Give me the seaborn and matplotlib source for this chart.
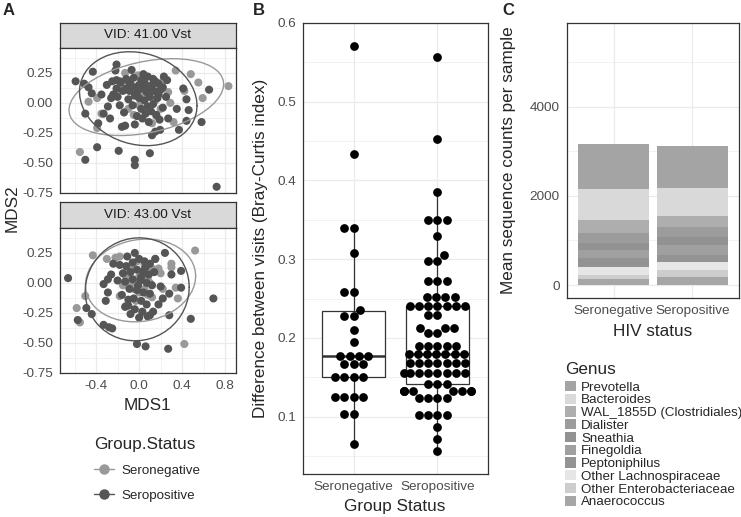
import numpy as np
import pandas as pd
import matplotlib
matplotlib.use("Agg")
import matplotlib.pyplot as plt
from matplotlib.lines import Line2D
from matplotlib.patches import Patch
from matplotlib.ticker import MultipleLocator, FormatStrFormatter
import seaborn as sns

# ---- panel A: MDS ordination, one facet per visit ----
vid_labels = ['VID: 41.00 Vst', 'VID: 43.00 Vst']
status_order = ['Seronegative', 'Seropositive']

vid41_seroneg = [
    (-0.55, -0.41), (-0.39, -0.21), (-0.39, 0.04), (-0.47, 0.01), (-0.35, -0.09),
    (-0.13, 0.25), (-0.15, 0.12), (-0.01, 0.23), (-0.05, -0.10), (0.03, 0.05),
    (0.34, 0.27), (0.48, 0.24), (0.55, 0.17), (0.59, 0.04), (0.83, 0.14),
    (0.27, 0.09), (0.29, 0.00), (0.16, -0.11), (0.32, -0.16), (0.05, 0.08),
    (0.10, 0.10), (0.06, 0.15), (-0.25, 0.05), (-0.08, 0.14), (0.15, 0.02),
    (0.20, -0.05), (-0.10, -0.05), (0.12, -0.17), (0.42, 0.10), (-0.20, 0.10),
    (0.22, 0.18), (0.00, -0.02),
]
vid41_seropos = [
    (-0.59, 0.18), (-0.43, 0.26), (-0.51, 0.16), (-0.47, 0.13), (-0.44, 0.08),
    (-0.50, -0.09), (-0.39, -0.37), (-0.50, -0.475), (-0.19, -0.40), (-0.04, -0.475),
    (-0.04, -0.52), (0.10, -0.42), (0.72, -0.70), (0.65, 0.11), (0.58, -0.16),
    (0.46, -0.06), (0.44, -0.15), (0.44, 0.03), (0.41, 0.12), (0.35, -0.05),
    (0.27, -0.13), (0.37, -0.225), (0.195, -0.225), (0.15, -0.24), (0.12, -0.27),
    (0.23, 0.22), (0.26, 0.19), (-0.38, -0.17), (-0.33, -0.09), (-0.27, -0.13),
    (-0.29, -0.03), (-0.16, -0.20), (-0.13, -0.19), (-0.04, -0.18), (-0.21, 0.32),
    (-0.22, 0.27), (-0.07, 0.275), (-0.35, 0.07), (-0.24, 0.07), (-0.26, 0.04),
    (-0.21, 0.19), (-0.18, 0.18), (-0.10, 0.18),
    (-0.30, 0.15), (-0.25, 0.18), (-0.17, 0.17), (-0.12, 0.20), (-0.05, 0.21),
    (0.02, 0.19), (0.08, 0.22), (0.13, 0.20), (0.18, 0.16), (0.12, 0.15),
    (-0.20, 0.05), (-0.15, 0.10), (-0.09, 0.10), (-0.03, 0.13), (0.03, 0.12),
    (0.07, 0.09), (0.14, 0.10), (0.20, 0.11), (0.25, 0.05), (0.17, 0.04),
    (-0.18, -0.02), (-0.10, 0.03), (-0.04, 0.06), (0.00, 0.04), (0.05, 0.02),
    (0.10, 0.05), (0.13, -0.01), (0.08, -0.03), (0.02, -0.05), (-0.06, -0.02),
    (-0.14, -0.08), (0.06, -0.09), (0.11, -0.07), (0.16, -0.10), (0.22, -0.04),
    (0.03, -0.13), (-0.02, -0.11), (0.09, -0.16), (0.19, -0.14), (-0.21, 0.12),
    (-0.08, 0.16), (0.00, 0.15), (0.05, 0.17), (0.15, 0.18), (0.10, 0.13),
    (-0.02, 0.09), (0.18, 0.07), (0.22, 0.13), (-0.12, 0.12), (0.04, 0.24),
]
vid43_seroneg = [
    (-0.43, 0.23), (-0.50, -0.11), (-0.58, -0.21), (-0.55, -0.33), (-0.30, 0.20),
    (-0.22, 0.21), (-0.18, 0.22), (-0.18, -0.11), (0.52, 0.27), (0.30, 0.16),
    (0.30, 0.13), (0.34, -0.04), (0.36, -0.13), (0.42, -0.51), (-0.10, 0.10),
    (0.00, 0.05), (0.05, 0.15), (-0.05, -0.05), (0.10, 0.00), (-0.12, -0.19),
    (0.15, 0.20), (0.08, -0.10), (-0.02, 0.18), (0.20, 0.08), (0.03, -0.25),
    (0.12, 0.12), (-0.08, 0.00), (0.22, -0.05),
    (-0.05, 0.12), (0.02, 0.08), (0.08, 0.03), (-0.12, 0.05), (0.05, -0.05),
    (-0.03, -0.15), (0.12, -0.12), (0.18, 0.12), (-0.15, -0.02), (0.00, -0.08),
]
vid43_seropos = [
    (-0.66, 0.04), (-0.57, -0.31), (-0.49, -0.21), (-0.44, -0.26), (-0.33, -0.35),
    (-0.28, -0.37), (-0.25, -0.38), (-0.33, -0.01), (-0.29, 0.03), (-0.26, 0.07),
    (-0.29, -0.08), (-0.31, -0.15), (-0.24, 0.16), (-0.11, 0.22), (-0.04, 0.25),
    (-0.02, -0.51), (0.06, -0.53), (0.24, 0.25), (0.30, 0.07), (0.39, 0.10),
    (0.39, -0.04), (0.20, -0.03), (0.28, -0.09), (0.22, -0.13), (0.18, -0.18),
    (0.13, -0.24), (0.10, -0.27), (0.28, -0.27), (0.48, -0.30), (0.69, -0.13),
    (0.27, -0.55), (-0.10, -0.14), (-0.10, -0.19),
    (-0.18, 0.15), (-0.12, 0.14), (-0.06, 0.17), (0.00, 0.20), (0.05, 0.18),
    (0.10, 0.16), (-0.15, 0.08), (-0.08, 0.09), (-0.02, 0.11), (0.04, 0.10),
    (0.09, 0.07), (0.14, 0.09), (-0.20, 0.02), (-0.13, 0.01), (-0.06, 0.03),
    (0.01, 0.02), (0.07, 0.00), (0.12, -0.02), (-0.09, -0.05), (-0.02, -0.06),
    (0.04, -0.08), (0.10, -0.09), (-0.16, -0.10), (-0.05, -0.13), (0.02, -0.15),
    (0.07, -0.18), (-0.13, -0.20), (-0.04, -0.22), (0.03, -0.24), (0.08, -0.28),
    (-0.08, -0.26), (0.00, -0.29), (0.15, 0.20), (0.02, 0.05), (-0.01, -0.02),
    (0.06, 0.13),
]

# ---- panel B: Bray-Curtis difference between visits ----
seroneg_bc = [0.066, 0.103, 0.103, 0.125, 0.125, 0.125, 0.125, 0.150, 0.150, 0.150,
              0.150, 0.167, 0.167, 0.167, 0.177, 0.177, 0.177, 0.177, 0.195, 0.210,
              0.228, 0.228, 0.236, 0.258, 0.258, 0.308, 0.340, 0.340, 0.433, 0.570]
seropos_bc = [0.057, 0.072, 0.087, 0.102, 0.102, 0.102, 0.102, 0.124, 0.124, 0.124,
              0.124, 0.132, 0.132, 0.132, 0.132, 0.132, 0.132, 0.132, 0.132, 0.141,
              0.141, 0.141, 0.155, 0.155, 0.155, 0.155, 0.155, 0.155, 0.155, 0.155,
              0.168, 0.168, 0.168, 0.168, 0.168, 0.168, 0.168, 0.179, 0.179, 0.179,
              0.179, 0.179, 0.179, 0.179, 0.190, 0.190, 0.190, 0.190, 0.190, 0.206,
              0.206, 0.212, 0.212, 0.212, 0.229, 0.229, 0.241, 0.241, 0.241, 0.241,
              0.241, 0.241, 0.241, 0.252, 0.252, 0.252, 0.252, 0.272, 0.272, 0.272,
              0.297, 0.297, 0.305, 0.329, 0.349, 0.349, 0.349, 0.385, 0.452, 0.556]

# ---- panel C: mean sequence counts per genus ----
genus_order = ['Prevotella', 'Bacteroides', 'WAL_1855D (Clostridiales)', 'Dialister',
               'Sneathia', 'Finegoldia', 'Peptoniphilus', 'Other Lachnospiraceae',
               'Other Enterobacteriaceae', 'Anaerococcus']
seroneg_counts = [1003, 704, 291, 225, 158, 187, 188, 192, 92, 128]
seropos_counts = [951, 621, 254, 227, 180, 216, 159, 170, 165, 180]
genus_greys = ['#A4A4A4', '#D9D9D9', '#AEAEAE', '#9C9C9C', '#929292',
               '#A0A0A0', '#939393', '#E6E6E6', '#CDCDCD', '#A6A6A6']

status_colors = {'Seronegative': '#999999', 'Seropositive': '#555555'}
GRID = '#EBEBEB'
BORDER = '#333333'
TICKTXT = '#4D4D4D'
TICK_FS = 9.7
TITLE_FS = 12.3
W, H = 741, 517


def rect(x0, y0, x1, y1):
    """pixel box (top-left origin) -> figure fraction"""
    return [x0 / W, 1 - y1 / H, (x1 - x0) / W, (y1 - y0) / H]


def bw_axes(ax):
    ax.set_facecolor('white')
    for s in ax.spines.values():
        s.set_visible(True)
        s.set_color(BORDER)
        s.set_linewidth(0.9)
    ax.grid(True, which='major', color=GRID, linewidth=0.9)
    ax.grid(True, which='minor', color=GRID, linewidth=0.45)
    ax.set_axisbelow(True)
    ax.tick_params(which='major', length=3, width=0.8, color=BORDER,
                   labelsize=TICK_FS, labelcolor=TICKTXT, pad=2)
    ax.tick_params(which='minor', length=0)
    ax.set_xlabel('')
    ax.set_ylabel('')


def t_ellipse(x, y, level=0.95, nu=5, segments=51):
    """95% ellipse from a multivariate t fit, like ggplot2's stat_ellipse"""
    pts = np.column_stack([x, y])
    n = len(pts)
    loc = pts.mean(axis=0)
    w = np.ones(n)
    for _ in range(25):
        w0 = w
        X = pts - loc
        cov = (w[:, None] * X).T @ X / w.sum()
        Q = np.einsum('ij,jk,ik->i', X, np.linalg.inv(cov), X)
        w = (nu + 2) / (nu + Q)
        loc = (w[:, None] * pts).sum(axis=0) / w.sum()
        if np.all(np.abs(w - w0) < 0.01):
            break
    X = pts - loc
    shape = (w[:, None] * X).T @ X / n
    d = n - 1
    fq = (d / 2) * ((1 - level) ** (-2 / d) - 1)
    radius = np.sqrt(2 * fq)
    theta = np.linspace(0, 2 * np.pi, segments)
    unit = np.column_stack([np.cos(theta), np.sin(theta)])
    ell = loc + radius * unit @ np.linalg.cholesky(shape).T
    return ell[:, 0], ell[:, 1]


sns.set_theme(style="white")
plt.rcParams['font.family'] = ['Liberation Sans', 'DejaVu Sans']
plt.rcParams['axes.unicode_minus'] = False

fig = plt.figure(figsize=(W / 100, H / 100), dpi=100)

# ---------------- panel A ----------------
rows = []
for vid, neg, pos in zip(vid_labels, [vid41_seroneg, vid43_seroneg],
                         [vid41_seropos, vid43_seropos]):
    for st, pts in zip(status_order, [neg, pos]):
        for x, y in pts:
            rows.append((vid, st, x, y))
dfA = pd.DataFrame(rows, columns=['VID', 'Group.Status', 'MDS1', 'MDS2'])

facet_boxes = [(23, 48, 193), (202, 228, 373)]
for i, (vid, (s0, p0, p1)) in enumerate(zip(vid_labels, facet_boxes)):
    strip = fig.add_axes(rect(60, s0, 236, p0))
    strip.set_facecolor('#D9D9D9')
    strip.set_xticks([])
    strip.set_yticks([])
    for s in strip.spines.values():
        s.set_color(BORDER)
        s.set_linewidth(0.9)
    strip.text(0.5, 0.5, vid, ha='center', va='center', fontsize=TICK_FS,
               color='#1A1A1A', transform=strip.transAxes)

    ax = fig.add_axes(rect(60, p0, 236, p1))
    sub = dfA[dfA['VID'] == vid]
    sns.scatterplot(data=sub, x='MDS1', y='MDS2', hue='Group.Status',
                    hue_order=status_order, palette=status_colors, s=34,
                    linewidth=0, legend=False, ax=ax)
    for st in status_order:
        g = sub[sub['Group.Status'] == st]
        ex, ey = t_ellipse(g['MDS1'].values, g['MDS2'].values)
        ax.plot(ex, ey, color=status_colors[st], linewidth=1.0)
    ax.set_xlim(-0.735, 0.90)
    ax.set_ylim(-0.752, 0.458)
    bw_axes(ax)
    ax.xaxis.set_major_locator(MultipleLocator(0.4))
    ax.xaxis.set_minor_locator(MultipleLocator(0.2))
    ax.yaxis.set_major_locator(MultipleLocator(0.25))
    ax.yaxis.set_minor_locator(MultipleLocator(0.125))
    ax.xaxis.set_major_formatter(FormatStrFormatter('%.1f'))
    ax.yaxis.set_major_formatter(FormatStrFormatter('%.2f'))
    if i == 0:
        ax.tick_params(axis='x', length=0, labelbottom=False)

fig.text(12 / W, 1 - 208 / H, 'MDS2', rotation=90, ha='center', va='center',
         fontsize=TITLE_FS)
fig.text(147 / W, 1 - 405 / H, 'MDS1', ha='center', va='center', fontsize=TITLE_FS)

handlesA = [Line2D([], [], color=status_colors[s], marker='o', markersize=6.5,
                   linewidth=1.0) for s in status_order]
fig.legend(handlesA, status_order, title='Group.Status', loc='upper left',
           bbox_to_anchor=(94 / W, 1 - 437 / H), frameon=False, borderpad=0,
           borderaxespad=0, alignment='left', fontsize=9.6, title_fontsize=TITLE_FS,
           labelspacing=0.95, handlelength=1.5, handletextpad=0.55)

# ---------------- panel B ----------------
axB = fig.add_axes(rect(303.3, 22.7, 487.7, 474))
dfB = pd.DataFrame({
    'Group Status': ['Seronegative'] * len(seroneg_bc) + ['Seropositive'] * len(seropos_bc),
    'bc': seroneg_bc + seropos_bc,
})
sns.boxplot(data=dfB, x='Group Status', y='bc', order=status_order, ax=axB,
            width=0.75, showfliers=False, showcaps=False, color='white',
            linecolor=BORDER, linewidth=0.9,
            medianprops={'linewidth': 1.8, 'color': BORDER})
sns.swarmplot(data=dfB, x='Group Status', y='bc', order=status_order, ax=axB,
              color='black', size=6.3, warn_thresh=1)
axB.set_xlim(-0.6, 1.6)
axB.set_ylim(0.0273, 0.600)
bw_axes(axB)
axB.yaxis.set_major_locator(MultipleLocator(0.1))
axB.yaxis.set_minor_locator(MultipleLocator(0.05))
axB.yaxis.set_major_formatter(FormatStrFormatter('%.1f'))
fig.text(260 / W, 1 - 248 / H, 'Difference between visits (Bray-Curtis index)',
         rotation=90, ha='center', va='center', fontsize=TITLE_FS)
fig.text(395 / W, 1 - 507 / H, 'Group Status', ha='center', va='center',
         fontsize=TITLE_FS)

# ---------------- panel C ----------------
axC = fig.add_axes(rect(566.7, 22.7, 739.3, 297.7))
dfC = pd.DataFrame({
    'HIV status': ['Seronegative'] * len(genus_order) + ['Seropositive'] * len(genus_order),
    'Genus': genus_order * 2,
    'count': seroneg_counts + seropos_counts,
})
genus_colors = dict(zip(genus_order, genus_greys))
sns.histplot(data=dfC, x='HIV status', hue='Genus', weights='count',
             hue_order=genus_order, palette=genus_colors, multiple='stack',
             discrete=True, shrink=0.9, linewidth=0, alpha=1, legend=False, ax=axC)
axC.set_xlim(-0.6, 1.6)
axC.set_ylim(-285, 5888)
bw_axes(axC)
axC.yaxis.set_major_locator(MultipleLocator(2000))
axC.yaxis.set_minor_locator(MultipleLocator(1000))
axC.yaxis.set_major_formatter(FormatStrFormatter('%d'))
fig.text(508 / W, 1 - 160 / H, 'Mean sequence counts per sample', rotation=90,
         ha='center', va='center', fontsize=TITLE_FS)
fig.text(653 / W, 1 - 331 / H, 'HIV status', ha='center', va='center',
         fontsize=TITLE_FS)

fig.text(565 / W, 1 - 369 / H, 'Genus', ha='left', va='center', fontsize=TITLE_FS)
handlesC = [Patch(facecolor=genus_colors[g], edgecolor='none') for g in genus_order]
fig.legend(handlesC, genus_order, loc='upper left',
           bbox_to_anchor=(565 / W, 1 - 381 / H), frameon=False, borderpad=0,
           borderaxespad=0, fontsize=9.6, labelspacing=0.0,
           handlelength=0.8, handleheight=0.8, handletextpad=0.4)

# panel letters
for letter, xpx in [('A', 3), ('B', 253), ('C', 502)]:
    fig.text(xpx / W, 1 - 3 / H, letter, ha='left', va='top', fontsize=12,
             fontweight='bold')

fig.savefig('out.png', dpi=100)
